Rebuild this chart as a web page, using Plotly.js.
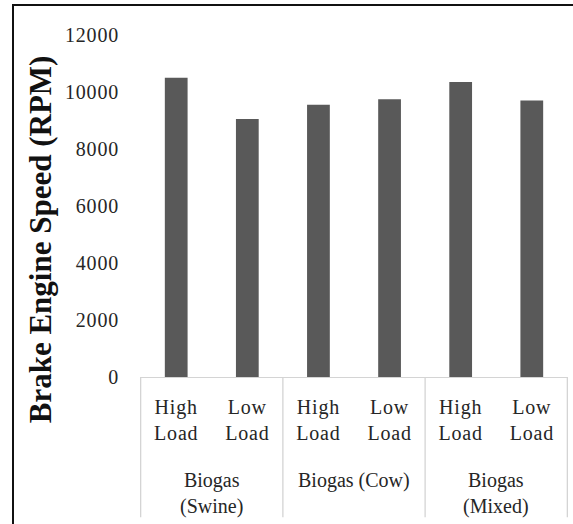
<!DOCTYPE html>
<html>
<head>
<meta charset="utf-8">
<script src="https://cdn.plot.ly/plotly-3.0.1.min.js"></script>
<style>
html,body{margin:0;padding:0;background:#fff;}
#frame{position:absolute;left:12px;top:4px;width:561px;height:520px;border-left:2px solid #111;border-top:2px solid #111;box-sizing:border-box;pointer-events:none;}
#chart{position:absolute;left:0;top:0;width:573px;height:524px;}
#chart .xtick text, #chart .ytick text, #chart .annotation-text.grp {letter-spacing:0.8px;}
</style>
</head>
<body>
<div id="chart"></div>
<div id="frame"></div>
<script>
const categories = ["swine-high", "swine-low", "cow-high", "cow-low", "mixed-high", "mixed-low"];
const loadLabels = ["High<br>Load", "Low<br>Load", "High<br>Load", "Low<br>Load", "High<br>Load", "Low<br>Load"];
const groupLabels = ["Biogas<br>(Swine)", "Biogas (Cow)", "Biogas<br>(Mixed)"];
const groupMembers = [["swine-high", "swine-low"], ["cow-high", "cow-low"], ["mixed-high", "mixed-low"]];
const speedRPM = [10500, 9050, 9550, 9750, 10350, 9700];
const yTicks = [0, 2000, 4000, 6000, 8000, 10000, 12000];

const serif = "Liberation Serif, Times New Roman, serif";
const txt = '#262626';

// group label positions from category indices (axis data coordinates)
const idx = c => categories.indexOf(c);
const groupAnn = groupLabels.map((g, i) => {
  const a = idx(groupMembers[i][0]), b = idx(groupMembers[i][groupMembers[i].length - 1]);
  return {
    text: g, xref: 'x', yref: 'paper', x: (a + b) / 2, y: -0.262,
    xanchor: 'center', yanchor: 'top', showarrow: false,
    font: {family: serif, size: 20, color: txt}
  };
});
// dividers at group boundaries
const bounds = [-0.5].concat(groupMembers.map(m => idx(m[m.length - 1]) + 0.5));
const dividers = bounds.map(b => ({
  type: 'line', xref: 'x', yref: 'paper', x0: b, x1: b, y0: 0, y1: -0.41,
  line: {color: '#d4d4d4', width: 1.3}
}));

Plotly.newPlot('chart', [{
  type: 'bar',
  x: categories,
  y: speedRPM,
  marker: {color: '#595959'},
  hoverinfo: 'none'
}], {
  width: 573, height: 524,
  margin: {l: 140, r: 5, t: 35, b: 147},
  paper_bgcolor: 'rgba(0,0,0,0)', plot_bgcolor: 'rgba(0,0,0,0)',
  bargap: 0.68,
  showlegend: false,
  font: {family: serif, color: txt, size: 20},
  xaxis: {
    type: 'category',
    categoryorder: 'array', categoryarray: categories,
    tickvals: categories, ticktext: loadLabels,
    showline: true, linecolor: '#d4d4d4', linewidth: 1.3,
    ticks: '', showgrid: false,
    ticklabelstandoff: 12,
    tickfont: {family: serif, size: 20, color: txt}
  },
  yaxis: {
    range: [0, 12000],
    tickvals: yTicks,
    ticktext: yTicks.map(String),
    showgrid: false, zeroline: false, showline: false, ticks: '',
    ticklabelstandoff: 20,
    tickfont: {family: serif, size: 20, color: txt}
  },
  shapes: dividers,
  annotations: groupAnn.concat([{
    text: 'Brake Engine Speed (RPM)', textangle: -90,
    xref: 'paper', yref: 'paper', x: -0.233, y: 0.4035,
    xanchor: 'center', yanchor: 'middle', showarrow: false,
    font: {family: serif, size: 31, color: '#111', weight: 'bold'}
  }])
}, {staticPlot: true});
</script>
</body>
</html>
